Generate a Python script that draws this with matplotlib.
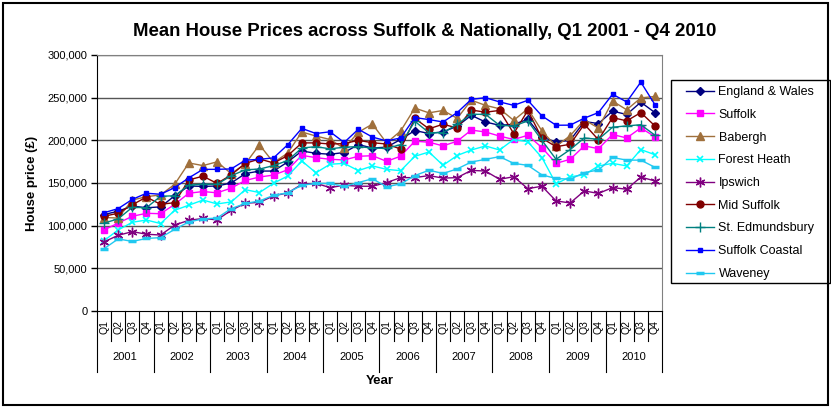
import matplotlib
matplotlib.use("Agg")
import matplotlib.pyplot as plt
import matplotlib.transforms as mtransforms
from matplotlib.patches import Rectangle
from matplotlib.ticker import FuncFormatter

plt.rcParams['font.family'] = ['Liberation Sans', 'DejaVu Sans']

years = ['2001', '2002', '2003', '2004', '2005', '2006', '2007', '2008', '2009', '2010']
quarters = ['Q1', 'Q2', 'Q3', 'Q4']

england_wales = [113, 117, 123, 121, 122, 135, 146.5, 146, 146.5, 150, 161, 164, 164, 174.6, 187.5, 184.8,
                 183.7, 185.7, 195, 191, 192, 201, 211.5, 208, 210, 216.5, 229.3, 221.5, 217.6, 218.8, 224.6, 204,
                 198, 200, 222, 219.7, 234.2, 230.3, 244.7, 232.5]
suffolk = [95, 103, 111, 114.5, 114, 125, 138, 140, 138.5, 144, 153, 157, 159.3, 165.5, 182.4, 179.7,
           177.8, 177, 181.3, 182, 175.4, 181.4, 199, 197.8, 193.5, 199, 212, 209.8, 205, 201, 205.9, 191.5,
           173, 177.8, 193.5, 190.2, 206.8, 202.8, 214.5, 204.2]
babergh = [109.5, 109, 130, 134, 136, 148.5, 173.5, 170.4, 174.8, 161, 172.5, 194.7, 174, 185, 209.8, 205,
           201, 190.5, 209.5, 219, 197, 211, 237.8, 232.2, 235, 225.8, 247, 241, 237, 223.4, 237, 211,
           193, 205.5, 224, 214.4, 246, 235.8, 249.7, 251.5]
forest_heath = [82.5, 95, 104, 106.6, 102.5, 118, 124, 130, 125.5, 127.8, 142.2, 138.8, 149.7, 158.2, 175.8, 162,
                172, 173, 164.5, 170, 166, 164.4, 181.3, 186.3, 170.8, 182.2, 188.7, 193.4, 188.7, 201, 198.4, 179.8,
                149, 157.3, 159.6, 170, 173, 170, 189.2, 183.1]
ipswich = [81, 88.7, 93, 90, 89, 100.7, 106.3, 108.4, 106.8, 118, 126.3, 127.3, 134.9, 138.4, 148.4, 149.6,
           144.6, 147.4, 146.2, 146.2, 150.5, 156.3, 156.3, 158.7, 155.7, 156.3, 164.8, 164, 154.3, 157.4, 143.4, 146.2,
           129, 126.6, 140.7, 137.8, 144.6, 142.7, 156.9, 152.4]
mid_suffolk = [111, 114.6, 124.5, 133.5, 125, 127, 153.6, 158, 149.5, 159.5, 173, 178.2, 173.5, 182, 197, 197,
               195.7, 196.2, 200, 197.2, 195.7, 189.8, 225.7, 213.5, 218.9, 214.4, 235.5, 233, 235, 208, 235, 202.5,
               192.5, 195.4, 218.9, 200.7, 226.7, 222.8, 232.5, 216.9]
st_edmundsbury = [103, 108, 121.5, 121, 134.5, 135, 147.5, 148.5, 148.5, 158.5, 165.5, 166.3, 170.4, 176.3, 191, 192.6,
                  190, 192, 192.6, 191, 190.5, 195, 222.3, 209, 209, 218.8, 230.5, 230.5, 217.6, 216.8, 222.7, 200,
                  177.8, 189.2, 202.8, 201.2, 215.4, 216.9, 218.3, 206]
suffolk_coastal = [115.2, 120, 130.8, 138, 136.8, 144.6, 156, 166, 166, 166.5, 176.7, 177.8, 179.4, 194.8, 214, 208,
                   210, 197.5, 213, 203.8, 199.3, 202.8, 226.7, 224.3, 221.5, 232.5, 248, 250, 245, 241, 246.9, 228.6,
                   217.7, 217.8, 226, 232.5, 254, 245, 268.2, 241.8]
waveney = [73, 84.5, 81.5, 85, 86, 95.7, 104.4, 107.8, 109, 120, 126, 129, 135.5, 138.6, 147.3, 149.6,
           149.5, 145.9, 150.5, 155, 145.6, 148.9, 158.7, 164.9, 161.2, 166.5, 174.6, 177.7, 180.9, 173, 170.7, 159.5,
           155.3, 154.4, 162.2, 165.2, 179.9, 176.8, 176.8, 168.4]

series = [
    ('England & Wales', england_wales, '#000080', dict(marker='D', markersize=4)),
    ('Suffolk', suffolk, '#FF00FF', dict(marker='s', markersize=5)),
    ('Babergh', babergh, '#A0703C', dict(marker='^', markersize=6)),
    ('Forest Heath', forest_heath, '#00FFFF', dict(marker='x', markersize=5, markeredgewidth=1.2)),
    ('Ipswich', ipswich, '#800080', dict(marker=(6, 2, 0), markersize=7, markeredgewidth=1.0)),
    ('Mid Suffolk', mid_suffolk, '#800000', dict(marker='o', markersize=5)),
    ('St. Edmundsbury', st_edmundsbury, '#008080', dict(marker='+', markersize=7, markeredgewidth=1.0)),
    ('Suffolk Coastal', suffolk_coastal, '#0000FF', dict(marker='s', markersize=2.5)),
    ('Waveney', waveney, '#20C8F0', dict(marker='_', markersize=6, markeredgewidth=2.5)),
]

W, H = 831, 408
fig = plt.figure(figsize=(W / 100, H / 100), dpi=100)
ax = fig.add_axes([97 / W, 1 - 311 / H, (662 - 97) / W, (311 - 55) / H])

x = list(range(len(years) * len(quarters)))
for name, vals, col, mk in series:
    ax.plot(x, [v * 1000 for v in vals], color=col, linewidth=1.0, label=name,
            markerfacecolor=col, markeredgecolor=col, **mk)

ax.set_xlim(-0.5, len(x) - 0.5)
ax.set_ylim(0, 300000)
ax.set_yticks(range(0, 300001, 50000))
ax.yaxis.set_major_formatter(FuncFormatter(lambda v, p: f'{int(v):,}'))
ax.tick_params(axis='y', labelsize=8, length=4, width=1, direction='out', pad=3)
for yv in range(50000, 300001, 50000):
    ax.axhline(yv, color='#555555', linewidth=1.0, zorder=0)

ax.set_xticks([])
for s in ['top', 'right']:
    ax.spines[s].set_color('#808080')
ax.spines['left'].set_color('black')
ax.spines['bottom'].set_color('black')

trans = mtransforms.blended_transform_factory(ax.transData, ax.transAxes)
px = 1 / 256.0
for i in range(len(x) + 1):
    xe = i - 0.5
    if i % 4 == 0:
        ax.plot([xe, xe], [0, -61 * px], color='black', linewidth=0.8, transform=trans, clip_on=False)
    else:
        ax.plot([xe, xe], [0, -30 * px], color='black', linewidth=0.8, transform=trans, clip_on=False)
for yi, yr in enumerate(years):
    for qi, q in enumerate(quarters):
        ax.text(yi * 4 + qi, -16 * px, q, rotation=90, ha='center', va='center',
                fontsize=7.5, transform=trans)
    ax.text(yi * 4 + 1.5, -46 * px, yr, ha='center', va='center', fontsize=8, transform=trans)

fig.text(380 / W, 1 - 381 / H, 'Year', ha='center', va='center', fontsize=9.5, fontweight='bold')
fig.text(32 / W, 1 - 183 / H, 'House price (£)', ha='center', va='center', rotation=90,
         fontsize=9.5, fontweight='bold')
fig.text(425 / W, 1 - 32 / H, 'Mean House Prices across Suffolk & Nationally, Q1 2001 - Q4 2010',
         ha='center', va='center', fontsize=13.4, fontweight='bold')

leg = ax.legend(loc='upper left', bbox_to_anchor=(686 / W, 1 - 86 / H), bbox_transform=fig.transFigure,
                fontsize=9, frameon=False, labelspacing=0.86, handlelength=2.2, handletextpad=0.4,
                borderpad=0, borderaxespad=0)

fig.add_artist(Rectangle((671 / W, 1 - 283 / H), (830 - 671) / W, (283 - 80) / H, transform=fig.transFigure,
                         fill=False, edgecolor='black', linewidth=1.0))
fig.add_artist(Rectangle((3 / W, 3 / H), (W - 6) / W, (H - 6) / H, transform=fig.transFigure,
                         fill=False, edgecolor='black', linewidth=1.5))

fig.savefig('out.png', dpi=100)
